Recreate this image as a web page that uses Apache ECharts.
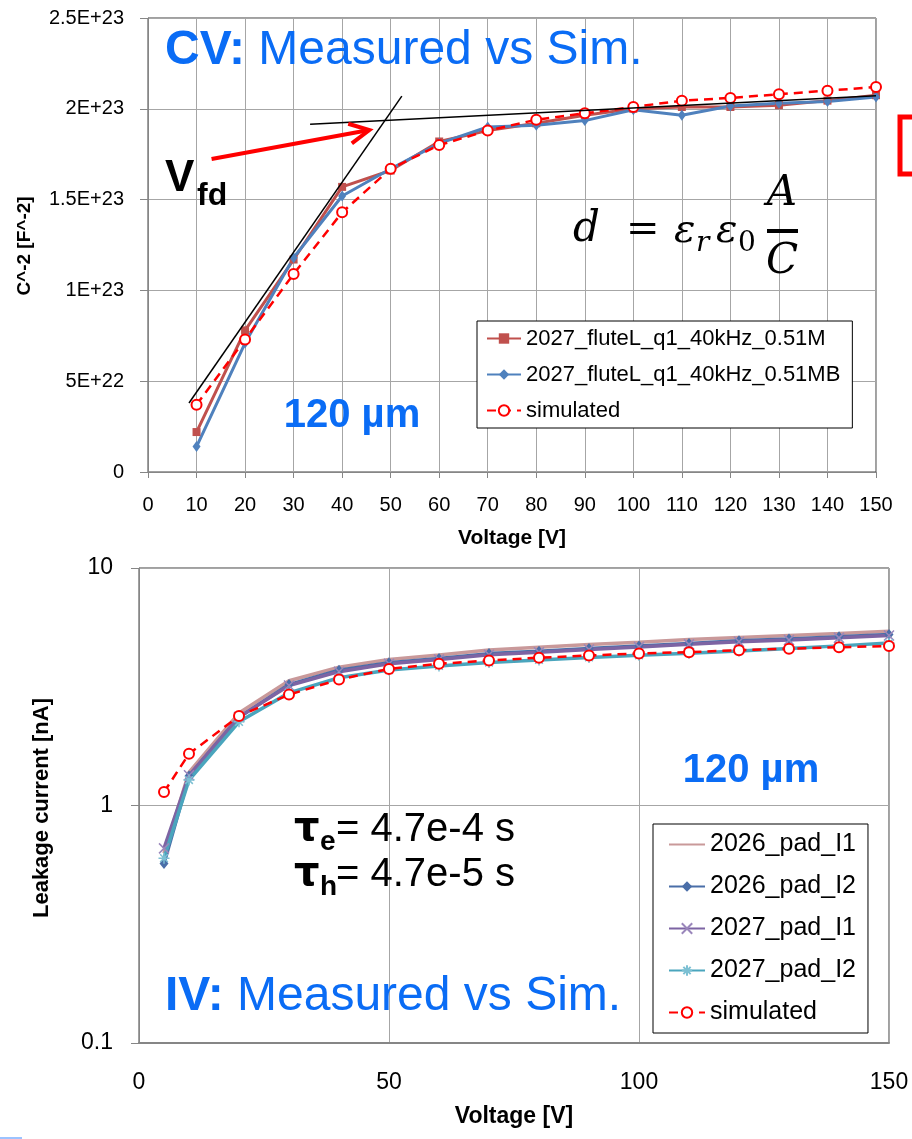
<!DOCTYPE html>
<html>
<head>
<meta charset="utf-8">
<script src="https://cdn.jsdelivr.net/npm/echarts@6/dist/echarts.min.js"></script>
<style>
  html, body { margin: 0; padding: 0; background: #fff; }
  #chart { width: 912px; height: 1139px; }
</style>
</head>
<body>
<div id="chart"></div>
<script>
// ---- CV (top), C^-2 in units of 1E+23 F^-2 ----
const cvVoltage = [10, 20, 30, 40, 50, 60, 70, 80, 90, 100, 110, 120, 130, 140, 150]
const cvMeasM = [0.22, 0.78, 1.17, 1.57, 1.66, 1.82, 1.88, 1.92, 1.965, 2.0, 2.01, 2.01, 2.02, 2.045, 2.075]
const cvMeasMB = [0.14, 0.71, 1.18, 1.52, 1.67, 1.81, 1.90, 1.91, 1.935, 1.995, 1.965, 2.015, 2.03, 2.04, 2.065]
const cvSim = [0.37, 0.73, 1.09, 1.43, 1.67, 1.80, 1.88, 1.94, 1.975, 2.01, 2.045, 2.06, 2.08, 2.10, 2.12]
const cvYTickLabels = ['0', '5E+22', '1E+23', '1.5E+23', '2E+23', '2.5E+23']
const cvNames = ['2027_fluteL_q1_40kHz_0.51M', '2027_fluteL_q1_40kHz_0.51MB', 'simulated']
// tangent lines used for V_fd and the arrow pointing at their crossing
const cvTangentSteep = [[8.45, 0.38], [52.3, 2.07]]
const cvTangentFlat = [[33.4, 1.915], [150, 2.072]]
const vfdArrow = [[13.1, 1.724], [45.6, 1.883]]

// ---- IV (bottom), leakage current in nA ----
const ivVoltage = [5, 10, 20, 30, 40, 50, 60, 70, 80, 90, 100, 110, 120, 130, 140, 150]
const ivPad2026I1 = [0.63, 1.38, 2.45, 3.35, 3.82, 4.12, 4.30, 4.52, 4.64, 4.76, 4.87, 5.0, 5.1, 5.2, 5.3, 5.42]
const ivPad2026I2 = [0.57, 1.33, 2.35, 3.23, 3.71, 3.99, 4.16, 4.36, 4.46, 4.58, 4.69, 4.81, 4.94, 5.03, 5.13, 5.25]
const ivPad2027I1 = [0.66, 1.34, 2.36, 3.20, 3.66, 3.95, 4.12, 4.31, 4.42, 4.54, 4.65, 4.77, 4.89, 4.98, 5.08, 5.20]
const ivPad2027I2 = [0.60, 1.28, 2.25, 2.98, 3.45, 3.72, 3.87, 4.00, 4.10, 4.20, 4.29, 4.38, 4.47, 4.58, 4.70, 4.83]
const ivSim = [1.14, 1.65, 2.38, 2.93, 3.39, 3.76, 3.95, 4.08, 4.19, 4.28, 4.37, 4.42, 4.51, 4.57, 4.64, 4.69]
const ivYTickLabels = ['0.1', '1', '10']
const ivNames = ['2026_pad_I1', '2026_pad_I2', '2027_pad_I1', '2027_pad_I2', 'simulated']

const FONT = 'Liberation Sans'
const BLUE = '#0a6cf5'
const GRID_LINE = '#a6a6a6'
const AXIS_LINE = '#868686'

const pairs = (xs, ys) => xs.map((x, i) => [x, ys[i]])

const chart = echarts.init(document.getElementById('chart'))

const lineSeries = (name, grid, xs, ys, color, symbol, size, extra) => Object.assign({
  name,
  type: 'line',
  xAxisIndex: grid,
  yAxisIndex: grid,
  data: pairs(xs, ys),
  symbol,
  symbolSize: size,
  showSymbol: symbol !== 'none',
  lineStyle: { color, width: 3 },
  itemStyle: { color },
  emphasis: { disabled: true }
}, extra || {})

const tangent = (pts) => ({
  type: 'line',
  xAxisIndex: 0,
  yAxisIndex: 0,
  data: pts,
  symbol: 'none',
  lineStyle: { color: '#000', width: 1.5 },
  z: 5,
  silent: true
})

const simStyle = {
  lineStyle: { color: '#ff0000', width: 2.5, type: [9, 6] },
  itemStyle: { color: '#ff0000', borderWidth: 2 },
  z: 4
}

const option = {
  animation: false,
  grid: [
    { left: 148, top: 18, right: 36, bottom: 667, show: true, borderColor: '#404040', borderWidth: 1 },
    { left: 139, top: 568, right: 23, bottom: 96, show: true, borderColor: '#404040', borderWidth: 1 }
  ],
  xAxis: [
    {
      gridIndex: 0, type: 'value', min: 0, max: 150, interval: 10,
      axisLine: { show: true, lineStyle: { color: AXIS_LINE } },
      axisTick: { show: true, length: 6, lineStyle: { color: AXIS_LINE } },
      axisLabel: { fontFamily: FONT, fontSize: 20, color: '#000', margin: 23 },
      splitLine: { show: true, lineStyle: { color: GRID_LINE } }
    },
    {
      gridIndex: 1, type: 'value', min: 0, max: 150, interval: 50,
      axisLine: { show: true, lineStyle: { color: AXIS_LINE, width: 2 } },
      axisTick: { show: false },
      axisLabel: { fontFamily: FONT, fontSize: 23, color: '#000', margin: 28 },
      splitLine: { show: true, lineStyle: { color: GRID_LINE } }
    }
  ],
  yAxis: [
    {
      gridIndex: 0, type: 'value', min: 0, max: 2.5, interval: 0.5,
      axisLine: { show: true, lineStyle: { color: AXIS_LINE } },
      axisTick: { show: true, length: 8, lineStyle: { color: AXIS_LINE } },
      axisLabel: {
        fontFamily: FONT, fontSize: 20, color: '#000', margin: 24,
        formatter: v => cvYTickLabels[Math.round(v / 0.5)]
      },
      splitLine: { show: true, lineStyle: { color: GRID_LINE } }
    },
    {
      gridIndex: 1, type: 'log', logBase: 10, min: 0.1, max: 10,
      axisLine: { show: true, lineStyle: { color: AXIS_LINE } },
      axisTick: { show: true, length: 8, lineStyle: { color: AXIS_LINE } },
      minorTick: { show: false },
      axisLabel: {
        fontFamily: FONT, fontSize: 23, color: '#000', margin: 26,
        formatter: v => ivYTickLabels[Math.round(Math.log10(v)) + 1]
      },
      splitLine: { show: true, lineStyle: { color: GRID_LINE } }
    }
  ],
  legend: [
    {
      data: cvNames, orient: 'vertical', left: 477, top: 321,
      backgroundColor: '#fff', borderColor: '#000', borderWidth: 1,
      padding: [6, 12, 6, 9], itemGap: 13, itemWidth: 34, itemHeight: 13,
      selectedMode: false,
      textStyle: { fontFamily: FONT, fontSize: 22, color: '#000', lineHeight: 23 }
    },
    {
      data: ivNames, orient: 'vertical', left: 653, top: 824,
      backgroundColor: '#fff', borderColor: '#000', borderWidth: 1,
      padding: [8, 12, 8, 15], itemGap: 17, itemWidth: 36, itemHeight: 13,
      selectedMode: false,
      textStyle: { fontFamily: FONT, fontSize: 25, color: '#000', lineHeight: 25 }
    }
  ],
  series: [
    lineSeries(cvNames[0], 0, cvVoltage, cvMeasM, '#c0504d', 'rect', 8),
    lineSeries(cvNames[1], 0, cvVoltage, cvMeasMB, '#4f81bd', 'diamond', [8, 11]),
    lineSeries(cvNames[2], 0, cvVoltage, cvSim, '#ff0000', 'emptyCircle', 10, simStyle),
    tangent(cvTangentSteep),
    tangent(cvTangentFlat),

    // no markers on this one; transparent item colour keeps the legend icon a plain line
    lineSeries(ivNames[0], 1, ivVoltage, ivPad2026I1, '#c9999a', 'none', 0, {
      lineStyle: { color: '#c9999a', width: 3.5 },
      itemStyle: { color: 'rgba(0,0,0,0)' }
    }),
    lineSeries(ivNames[1], 1, ivVoltage, ivPad2026I2, '#4a6ea8', 'diamond', [9, 11], { lineStyle: { color: '#4a6ea8', width: 3.5 } }),
    lineSeries(ivNames[2], 1, ivVoltage, ivPad2027I1, '#7d64a3', 'path://M0,0L10,10M10,0L0,10', 10, {
      lineStyle: { color: '#7d64a3', width: 3.5 },
      itemStyle: { color: '#7d64a3', borderColor: '#9a86bb', borderWidth: 1.5 }
    }),
    lineSeries(ivNames[3], 1, ivVoltage, ivPad2027I2, '#4aa5bd', 'path://M5,0L5,10M0,5L10,5M1.5,1.5L8.5,8.5M8.5,1.5L1.5,8.5', 11, {
      lineStyle: { color: '#4aa5bd', width: 3.5 },
      itemStyle: { color: '#4aa5bd', borderColor: '#7cc0d3', borderWidth: 1.5 }
    }),
    lineSeries(ivNames[4], 1, ivVoltage, ivSim, '#ff0000', 'emptyCircle', 10, simStyle)
  ]
}

chart.setOption(option)

// ---- annotations ----
const txt = (text, x, y, size, opts) => ({
  type: 'text',
  z: 100,
  silent: true,
  style: Object.assign({
    text, x, y,
    fontFamily: FONT, fontSize: size, fill: '#000',
    align: 'left', verticalAlign: 'middle'
  }, opts || {})
})

const title = (x, y, head, rest) => ({
  type: 'text', z: 100, silent: true,
  style: {
    x, y, text: '{b|' + head + '}{r|' + rest + '}',
    verticalAlign: 'middle',
    rich: {
      b: { fontFamily: FONT, fontSize: 48, fontWeight: 'bold', fill: BLUE },
      r: { fontFamily: FONT, fontSize: 48, fill: BLUE }
    }
  }
})

// arrow towards the tangent crossing, placed through the axis scales
const a0 = chart.convertToPixel({ gridIndex: 0 }, vfdArrow[0])
const a1 = chart.convertToPixel({ gridIndex: 0 }, vfdArrow[1])
const ang = Math.atan2(a0[1] - a1[1], a0[0] - a1[0])
const arm = (d) => [a1[0] + 22 * Math.cos(ang + d), a1[1] + 22 * Math.sin(ang + d)]
const arrowStyle = { stroke: '#ff0000', lineWidth: 4, fill: null, lineCap: 'butt' }

const serif = 'DejaVu Serif'
const graphic = [
  title(165, 51, 'CV:', ' Measured vs Sim.'),
  title(165, 997, 'IV:', ' Measured vs Sim.'),

  { type: 'polyline', z: 90, silent: true, shape: { points: [a0, a1] }, style: arrowStyle },
  { type: 'polyline', z: 90, silent: true, shape: { points: [arm(0.47), a1, arm(-0.47)] }, style: arrowStyle },

  txt('V', 165, 179, 44, { fontWeight: 'bold' }),
  txt('fd', 197, 196, 32, { fontWeight: 'bold' }),

  // d = eps_r eps_0 A / C
  txt('d', 573, 230, 42, { fontFamily: serif, fontStyle: 'italic' }),
  txt('=', 626, 231, 40, { fontFamily: serif }),
  txt('ε', 674, 232, 40, { fontFamily: serif, fontStyle: 'italic' }),
  txt('r', 696, 244, 28, { fontFamily: serif, fontStyle: 'italic' }),
  txt('ε', 716, 232, 40, { fontFamily: serif, fontStyle: 'italic' }),
  txt('0', 738, 244, 28, { fontFamily: serif }),
  txt('A', 782, 194, 42, { fontFamily: serif, fontStyle: 'italic', align: 'center' }),
  { type: 'rect', z: 100, silent: true, shape: { x: 767, y: 229, width: 31, height: 4 }, style: { fill: '#000' } },
  txt('C', 782, 262, 42, { fontFamily: serif, fontStyle: 'italic', align: 'center' }),

  txt('120 µm', 352, 416, 40, { fontWeight: 'bold', fill: BLUE, align: 'center' }),
  txt('120 µm', 751, 771, 40, { fontWeight: 'bold', fill: BLUE, align: 'center' }),

  txt('τ', 294, 830, 40, { fontFamily: 'DejaVu Sans', fontWeight: 'bold' }),
  txt('e', 320, 842, 28, { fontWeight: 'bold' }),
  txt('= 4.7e-4 s', 336, 830, 40),
  txt('τ', 294, 875, 40, { fontFamily: 'DejaVu Sans', fontWeight: 'bold' }),
  txt('h', 320, 887, 28, { fontWeight: 'bold' }),
  txt('= 4.7e-5 s', 336, 875, 40),

  // axis names
  txt('Voltage [V]', 512, 538, 21, { fontWeight: 'bold', align: 'center' }),
  txt('Voltage [V]', 514, 1117, 23, { fontWeight: 'bold', align: 'center' }),
  Object.assign(txt('C^-2 [F^-2]', 0, 0, 19, { fontWeight: 'bold', align: 'center' }), { x: 25, y: 246, rotation: Math.PI / 2 }),
  Object.assign(txt('Leakage current [nA]', 0, 0, 22, { fontWeight: 'bold', align: 'center' }), { x: 42, y: 808, rotation: Math.PI / 2 }),

  // red box edge at the right margin and small blue mark at bottom left
  { type: 'rect', z: 100, silent: true, shape: { x: 900, y: 117, width: 40, height: 57 }, style: { fill: null, stroke: '#ff0000', lineWidth: 5 } },
  { type: 'rect', z: 100, silent: true, shape: { x: 0, y: 1137, width: 22, height: 2 }, style: { fill: '#9cc3ff' } }
]

chart.setOption({ graphic })

window.addEventListener('resize', () => chart.resize())
</script>
</body>
</html>
